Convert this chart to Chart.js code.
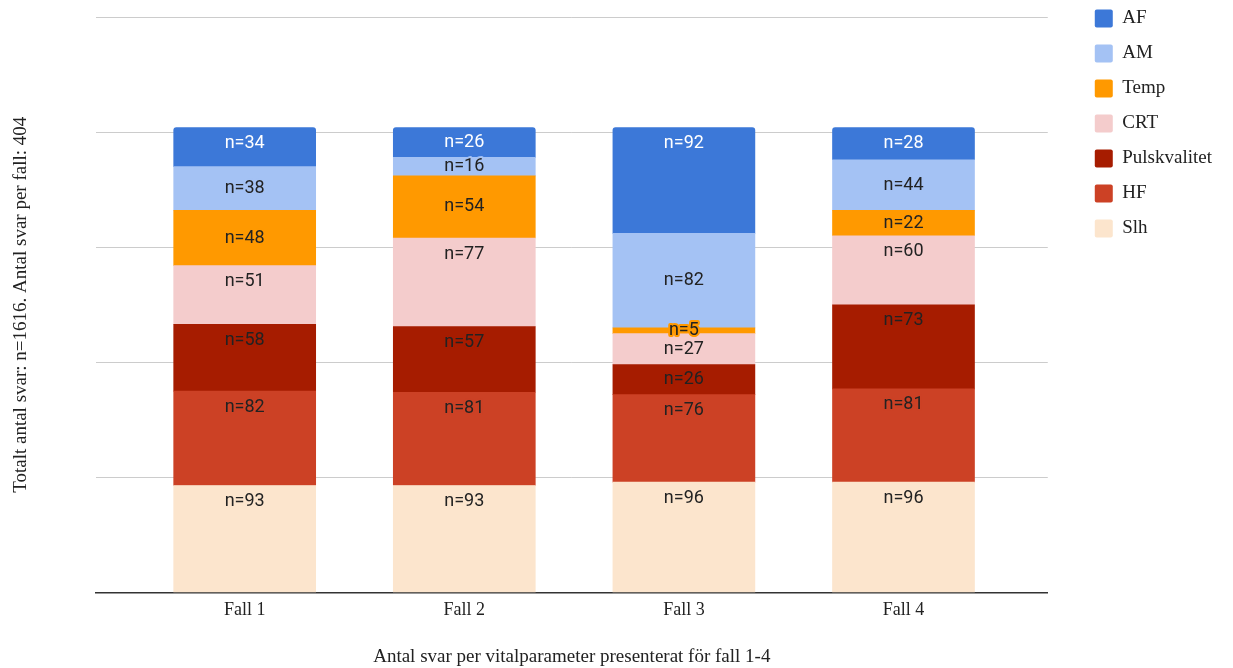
<!DOCTYPE html>
<html>
<head>
<meta charset="utf-8">
<script src="https://cdn.jsdelivr.net/npm/chart.js@4/dist/chart.umd.min.js"></script>
<style>
  html, body { margin: 0; padding: 0; background: #ffffff; }
  #wrap { width: 1233px; height: 668px; position: relative; }
</style>
</head>
<body>
<div id="wrap"><canvas id="chart" width="1233" height="668"></canvas></div>
<script>
// Answers per vital parameter, cases 1-4 (404 answers per case)
const categories = ['Fall 1', 'Fall 2', 'Fall 3', 'Fall 4'];
const af   = [34, 26, 92, 28];
const am   = [38, 16, 82, 44];
const temp = [48, 54, 5, 22];
const crt  = [51, 77, 27, 60];
const puls = [58, 57, 26, 73];
const hf   = [82, 81, 76, 81];
const slh  = [93, 93, 96, 96];
const yTickValues = [0, 100, 200, 300, 400, 500];

const serif = "'Liberation Serif', 'Times New Roman', serif";
const sans = "Roboto, 'Liberation Sans', Arial, sans-serif";

function points(values) {
  return values.map((v, i) => ({ x: i + 1, y: v }));
}

// bottom of the stack first
const series = [
  { label: 'Slh',          data: slh,  color: '#fce5cd', text: '#222222', anchor: 'top' },
  { label: 'HF',           data: hf,   color: '#cc4125', text: '#222222', anchor: 'top' },
  { label: 'Pulskvalitet', data: puls, color: '#a61c00', text: '#222222', anchor: 'top' },
  { label: 'CRT',          data: crt,  color: '#f4cccc', text: '#222222', anchor: 'top' },
  { label: 'Temp',         data: temp, color: '#ff9900', text: '#222222', anchor: 'center' },
  { label: 'AM',           data: am,   color: '#a4c2f4', text: '#222222', anchor: 'center' },
  { label: 'AF',           data: af,   color: '#3c78d8', text: '#ffffff', anchor: 'top' }
];

const datasets = series.map((s, idx) => ({
  label: s.label,
  data: points(s.data),
  backgroundColor: s.color,
  borderWidth: 0,
  borderRadius: idx === series.length - 1 ? { topLeft: 3, topRight: 3, bottomLeft: 0, bottomRight: 0 } : 0,
  borderSkipped: idx === series.length - 1 ? 'start' : false,
  barThickness: 142,
  labelColor: s.text,
  labelAnchor: s.anchor
}));

// "n=" value labels inside each segment
const valueLabels = {
  id: 'valueLabels',
  afterDatasetsDraw(chart) {
    const ctx = chart.ctx;
    ctx.save();
    ctx.font = '18px ' + sans;
    ctx.textAlign = 'center';
    ctx.textBaseline = 'middle';
    ctx.lineJoin = 'round';
    chart.data.datasets.forEach((ds, di) => {
      const meta = chart.getDatasetMeta(di);
      meta.data.forEach((bar, i) => {
        const v = ds.data[i].y;
        const top = Math.min(bar.y, bar.base);
        const bottom = Math.max(bar.y, bar.base);
        const mid = (top + bottom) / 2;
        const y = ds.labelAnchor === 'center' ? mid : Math.min(mid, top + 16);
        const txt = 'n=' + v;
        ctx.lineWidth = 4;
        ctx.strokeStyle = ds.backgroundColor;
        ctx.strokeText(txt, bar.x, y);
        ctx.fillStyle = ds.labelColor;
        ctx.fillText(txt, bar.x, y);
      });
    });
    ctx.restore();
  }
};

// legend sits a little apart from the plot, aligned with the top gridline
const legendPlacement = {
  id: 'legendPlacement',
  afterLayout(chart) {
    const lg = chart.legend;
    if (!lg) return;
    lg.left += 31; lg.right += 31;
    lg.top -= 24; lg.bottom -= 24;
  }
};

new Chart(document.getElementById('chart'), {
  type: 'bar',
  data: { datasets },
  plugins: [valueLabels, legendPlacement],
  options: {
    responsive: false,
    animation: false,
    layout: { padding: { left: 10, right: 42, top: 17, bottom: 0 } },
    plugins: {
      legend: {
        position: 'right',
        align: 'start',
        reverse: true,
        labels: {
          boxWidth: 18,
          boxHeight: 18,
          padding: 16,
          color: '#222222',
          useBorderRadius: true,
          borderRadius: 2,
          font: { family: serif, size: 19 }
        }
      },
      tooltip: { enabled: false }
    },
    scales: {
      x: {
        type: 'linear',
        stacked: true,
        offset: false,
        bounds: 'ticks',
        min: 0.322,
        max: 4.657,
        afterBuildTicks(scale) {
          scale.ticks = categories.map((c, i) => ({ value: i + 1 }));
        },
        grid: { display: false, drawTicks: false, offset: false },
        border: { display: true, color: '#333333', width: 1.5 },
        ticks: {
          padding: 7,
          color: '#222222',
          font: { family: serif, size: 18 },
          callback: (v) => categories[v - 1] || ''
        },
        title: {
          display: true,
          text: 'Antal svar per vitalparameter presenterat för fall 1-4',
          color: '#222222',
          font: { family: serif, size: 19 },
          padding: { top: 17, bottom: 0 }
        }
      },
      y: {
        stacked: true,
        min: 0,
        max: 500,
        afterBuildTicks(scale) {
          scale.ticks = yTickValues.map(v => ({ value: v }));
        },
        grid: { color: '#cccccc', lineWidth: 1, drawTicks: false },
        border: { display: false },
        ticks: { display: false },
        title: {
          display: true,
          text: 'Totalt antal svar: n=1616. Antal svar per fall: 404',
          color: '#222222',
          font: { family: serif, size: 19 },
          padding: { top: 0, bottom: 63 }
        }
      }
    }
  }
});
</script>
</body>
</html>
